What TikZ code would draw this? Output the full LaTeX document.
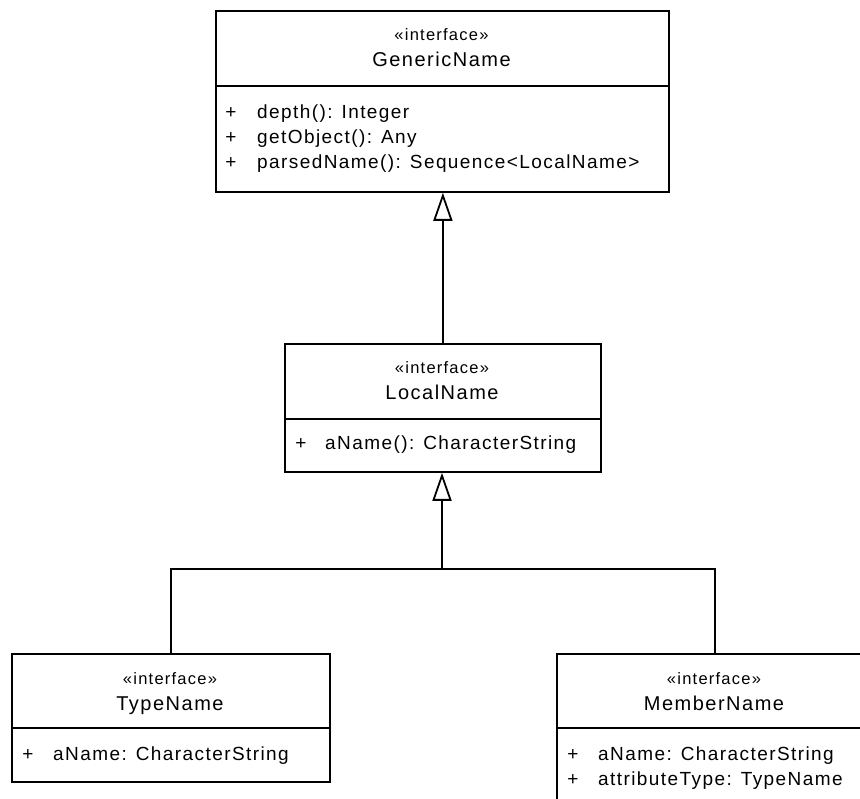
\documentclass[tikz,border=0pt]{standalone}
\usepackage{fontspec}
\setmainfont{Liberation Sans}[LetterSpace=7.5]
\usetikzlibrary{arrows.meta}
\begin{document}
\begin{tikzpicture}[x=1pt,y=-1pt,
  classbox/.style={draw, line width=1.8pt, rectangle, inner sep=0pt, anchor=north west},
  divider/.style={line width=1.6pt},
  stereo/.style={anchor=base, inner sep=0pt, font=\fontsize{16.5}{20}\selectfont},
  cname/.style={anchor=base, inner sep=0pt, font=\fontsize{20}{24}\selectfont},
  vis/.style={anchor=base, inner sep=0pt, font=\fontsize{19}{23}\selectfont},
  member/.style={anchor=base west, inner sep=0pt, font=\fontsize{19}{23}\selectfont},
  link/.style={line width=1.8pt},
  gen/.style={line width=1.8pt, -{Triangle[open, length=28pt, width=19pt, line width=1.8pt]}}]
\useasboundingbox (0,0) rectangle (860,799);
\clip (0,0) rectangle (860,799);

% GenericName
\node[classbox, minimum width=453pt, minimum height=181pt] (generic) at (215,10) {};
\draw[divider] (215,86) -- (668,86);
\node[stereo] (genericS) at (441.5,41) {«interface»};
\node[cname] (genericN) at (441.5,67) {GenericName};
\node[vis] (gp1) at (231,119) {+};
\node[member] (gm1) at (257,119) {depth(): Integer};
\node[vis] (gp2) at (231,144) {+};
\node[member] (gm2) at (257,144) {getObject(): Any};
\node[vis] (gp3) at (231,169) {+};
\node[member] (gm3) at (257,169) {parsedName(): Sequence<LocalName>};

% LocalName
\node[classbox, minimum width=316pt, minimum height=128pt] (local) at (284,343) {};
\draw[divider] (284,419) -- (600,419);
\node[stereo] (localS) at (442,374) {«interface»};
\node[cname] (localN) at (442,400) {LocalName};
\node[vis] (lp1) at (301,450) {+};
\node[member] (lm1) at (325,450) {aName(): CharacterString};

% TypeName
\node[classbox, minimum width=318pt, minimum height=128pt] (type) at (11,653) {};
\draw[divider] (11,728) -- (329,728);
\node[stereo] (typeS) at (170,684) {«interface»};
\node[cname] (typeN) at (170,710) {TypeName};
\node[vis] (tp1) at (28,760) {+};
\node[member] (tm1) at (53,760) {aName: CharacterString};

% MemberName
\node[classbox, minimum width=316pt, minimum height=170pt] (member) at (556,653) {};
\draw[divider] (556,728) -- (872,728);
\node[stereo] (memberS) at (714,684) {«interface»};
\node[cname] (memberN) at (714,710) {MemberName};
\node[vis] (mp1) at (573,760) {+};
\node[member] (mm1) at (598,760) {aName: CharacterString};
\node[vis] (mp2) at (573,785) {+};
\node[member] (mm2) at (598,785) {attributeType: TypeName};

% generalisations
\coordinate (fork) at (442,569);
\draw[gen] (local.north) -- (local.north |- generic.south);
\draw[gen] (fork) -- (fork |- local.south);
\draw[link] (type.north) |- (fork) -| (member.north);
\end{tikzpicture}
\end{document}
